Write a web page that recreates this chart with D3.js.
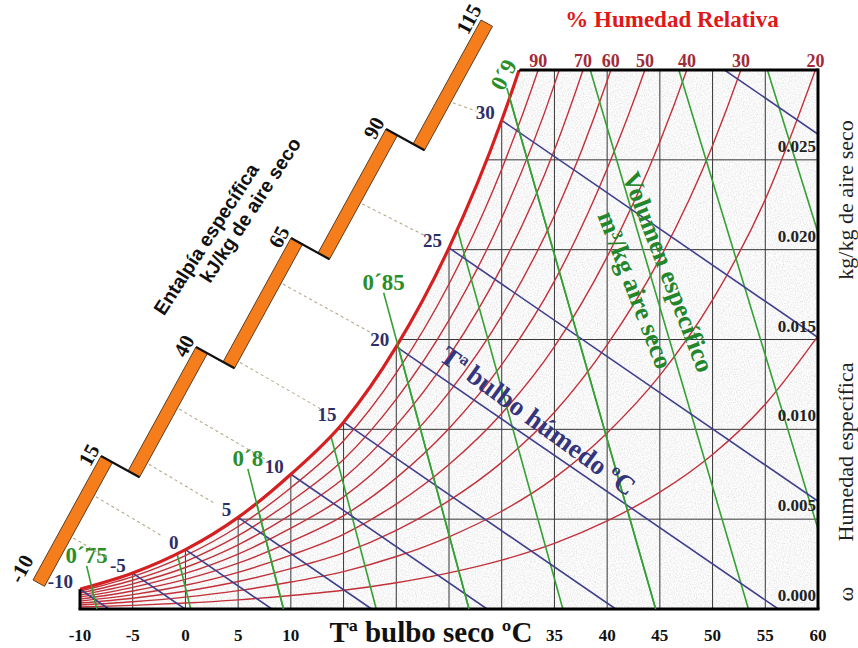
<!DOCTYPE html>
<html><head><meta charset="utf-8">
<script src="https://cdn.jsdelivr.net/npm/d3@7"></script>
<style>body{margin:0;background:#fff}svg{display:block}</style>
</head><body><svg id="c" width="858" height="648"></svg>
<script>
// ---------------- DATA ----------------
const tempGrid = [-10,-5,0,5,10,15,20,25,30,35,40,45,50,55,60];
const satHumidity = [0.0011,0.0020,0.0033,0.0051,0.0075,0.0104,0.0146,0.0201,0.0272,0.0365,0.0490,0.0650,0.0860,0.1140,0.1520];
const rhLevels = [10,20,30,40,50,60,70,80,90];
const rhLabelLevels = [90,70,60,50,40,30,20];
const wetBulbTemps = [-10,-5,0,5,10,15,20,25,30,35];
const wetBulbLabelTemps = [-10,-5,0,5,10,15,20,25,30];
const wetBulbSlope = 0.000403;
const volumeValues = [0.75,0.775,0.80,0.825,0.85,0.875,0.90,0.925,0.95,0.975];
const volumeTempAtDry = [-8.4,0.5,9.3,18.1,26.9,35.8,44.6,53.4,62.3,71.1];
const volumeTempAtTop = [-20.5,-12.1,-3.7,4.7,13.1,21.6,30.0,38.4,46.8,55.2];
const volumeLabels = ["0\u00b475","0\u00b48","0\u00b485","0\u00b49"];
const volumeLabelValues = [0.75,0.80,0.85,0.90];
const volumeLabelTopW = [0.0024,0.0078,0.0176,0.0290];
const xTickLabels = [-10,-5,0,5,10,35,40,45,50,55,60];
const gridTemps = [-5,0,5,10,15,20,25,30,35,40,45,50,55];
const gridHumidity = [0.005,0.010,0.015,0.020,0.025];
const yTickValues = [0,0.005,0.010,0.015,0.020,0.025];
const enthalpyTicks = [-10,15,40,65,90,115];
const dashedEnthalpyTemps = [-5,0,5,10,15,20,25,30];

// ---------------- SETUP ----------------
const svg = d3.select("#c");
const SERIF = "'Liberation Serif','Times New Roman',serif";
const SANS = "'Liberation Sans',Arial,sans-serif";
const x = d3.scaleLinear().domain([-10,60]).range([80,818]);
const y = d3.scaleLinear().domain([0,0.030]).range([609,70]);
const satOf = t => satHumidity[tempGrid.indexOf(t)];
const satPts = tempGrid.map((t,i)=>({t, w:satHumidity[i]}));
const curveLine = d3.line().x(d=>x(d.t)).y(d=>y(d.w)).curve(d3.curveMonotoneX);

const defs = svg.append("defs");
defs.append("clipPath").attr("id","rectClip").append("rect")
  .attr("x",x(-10)).attr("y",y(0.030)).attr("width",x(60)-x(-10)).attr("height",y(0)-y(0.030));
defs.append("clipPath").attr("id","satClip").append("path")
  .attr("d", d3.area().x(d=>x(d.t)).y0(y(0)+6).y1(d=>y(d.w)).curve(d3.curveMonotoneX)(satPts));
const filt = defs.append("filter").attr("id","grain").attr("filterUnits","userSpaceOnUse")
  .attr("x",70).attr("y",60).attr("width",760).attr("height",560);
filt.append("feTurbulence").attr("type","fractalNoise").attr("baseFrequency",0.85).attr("numOctaves",2).attr("seed",5);
filt.append("feColorMatrix").attr("type","matrix")
  .attr("values","0.33 0.33 0.33 0 0  0.33 0.33 0.33 0 0  0.33 0.33 0.33 0 0  0 0 0 0 1");
const ct = filt.append("feComponentTransfer");
["feFuncR","feFuncG","feFuncB"].forEach(f=>ct.append(f).attr("type","linear").attr("slope",0.8).attr("intercept",0.54));

// ---------------- CHART BODY ----------------
const outer = svg.append("g").attr("clip-path","url(#rectClip)");
const body = outer.append("g").attr("clip-path","url(#satClip)");
body.append("rect").attr("x",70).attr("y",60).attr("width",760).attr("height",560).attr("filter","url(#grain)");

body.selectAll("line.vg").data(gridTemps).join("line").attr("class","vg")
  .attr("x1",d=>x(d)).attr("x2",d=>x(d)).attr("y1",y(0)).attr("y2",y(0.030))
  .attr("stroke","#363636").attr("stroke-width",1);
body.selectAll("line.hg").data(gridHumidity).join("line").attr("class","hg")
  .attr("x1",x(-10)).attr("x2",x(60)).attr("y1",d=>y(d)).attr("y2",d=>y(d))
  .attr("stroke","#363636").attr("stroke-width",1);

const rhPaths = body.selectAll("path.rh").data(rhLevels).join("path").attr("class","rh")
  .attr("d",p=>curveLine(tempGrid.map((t,i)=>({t, w:satHumidity[i]*p/100}))))
  .attr("fill","none").attr("stroke","#c2303a").attr("stroke-width",1.4);

body.selectAll("line.vol").data(volumeValues).join("line").attr("class","vol")
  .attr("x1",(d,i)=>x(volumeTempAtDry[i])).attr("y1",y(0))
  .attr("x2",(d,i)=>x(volumeTempAtTop[i])).attr("y2",y(0.030))
  .attr("stroke","#35a035").attr("stroke-width",1.6);

body.selectAll("line.wb").data(wetBulbTemps).join("line").attr("class","wb")
  .attr("x1",d=>x(d)).attr("y1",d=>y(satOf(d)))
  .attr("x2",d=>x(d+satOf(d)/wetBulbSlope)).attr("y2",y(0))
  .attr("stroke","#3f3f8c").attr("stroke-width",1.6);

svg.append("g").attr("clip-path","url(#satClip)").append("line")
  .attr("x1",x(-10)).attr("x2",x(60)+1.5).attr("y1",y(0.030)).attr("y2",y(0.030))
  .attr("stroke","#000").attr("stroke-width",3);

outer.append("path").attr("d",curveLine(satPts)).attr("fill","none")
  .attr("stroke","#d42020").attr("stroke-width",3.2);

svg.append("line").attr("x1",x(-10)-1.5).attr("x2",x(60)+1.5).attr("y1",y(0)).attr("y2",y(0)).attr("stroke","#000").attr("stroke-width",3);
svg.append("line").attr("x1",x(60)).attr("x2",x(60)).attr("y1",y(0)).attr("y2",y(0.030)-1.5).attr("stroke","#000").attr("stroke-width",3);
svg.append("line").attr("x1",x(-10)).attr("x2",x(-10)).attr("y1",y(0)).attr("y2",y(satHumidity[0])).attr("stroke","#000").attr("stroke-width",3);

const volT = (i,w) => volumeTempAtDry[i] + (w/0.030)*(volumeTempAtTop[i]-volumeTempAtDry[i]);
volumeLabelValues.forEach((v,j)=>{
  const i = volumeValues.indexOf(v);
  const tx = x(volT(i,volumeLabelTopW[j])), ty = y(volumeLabelTopW[j]);
  svg.append("line").attr("x1",x(volumeTempAtDry[i])).attr("y1",y(0)).attr("x2",tx).attr("y2",ty)
    .attr("stroke","#35a035").attr("stroke-width",1.6);
  const lab = svg.append("text").text(volumeLabels[j]).attr("font-family",SERIF).attr("font-weight","bold")
    .attr("font-size",23).attr("fill","#2a8f2a").attr("text-anchor","middle");
  if (j===3) lab.attr("dominant-baseline","central").attr("transform",`translate(${tx-3},${ty-13}) rotate(-62)`);
  else lab.attr("x",tx).attr("y",ty-3);
});

// ---------------- ENTHALPY SCALE ----------------
const barOrigin=[33,580], segVec=[68,-124], stepVec=[27,15], widthVec=[11.5,6.3];
const hScale = d3.scaleLinear().domain([-10,115]).range([0,5]);
const segStart = k => [barOrigin[0]+k*(segVec[0]+stepVec[0]), barOrigin[1]+k*(segVec[1]+stepVec[1])];
const barPoint = (h,side) => {
  const u = hScale(h); const k = Math.max(0,Math.min(4,Math.floor(u))); const f = u-k;
  const s = segStart(k);
  return [s[0]+f*segVec[0]+side*widthVec[0], s[1]+f*segVec[1]+side*widthVec[1]];
};
dashedEnthalpyTemps.forEach(t=>{
  const w = satOf(t);
  const h = 1.006*t + w*(2501+1.86*t);
  const p = barPoint(h,1), q=[x(t),y(w)];
  const dx=q[0]-p[0], dy=q[1]-p[1], L=Math.hypot(dx,dy), r=(L-27)/L;
  svg.append("line").attr("x1",p[0]+dx*2/L).attr("y1",p[1]+dy*2/L).attr("x2",p[0]+dx*r).attr("y2",p[1]+dy*r)
    .attr("stroke","#b5a888").attr("stroke-width",1.1).attr("stroke-dasharray","3,3");
});
const segs = d3.range(enthalpyTicks.length-1);
svg.selectAll("path.bar").data(segs).join("path").attr("class","bar")
  .attr("d",k=>{const s=segStart(k);
    return `M${s[0]},${s[1]} L${s[0]+segVec[0]},${s[1]+segVec[1]} L${s[0]+segVec[0]+widthVec[0]},${s[1]+segVec[1]+widthVec[1]} L${s[0]+widthVec[0]},${s[1]+widthVec[1]} Z`;})
  .attr("fill","#f57d1c").attr("stroke","#4a3018").attr("stroke-width",0.9);
segs.slice(0,-1).forEach(k=>{
  const s=segStart(k), n=segStart(k+1);
  svg.append("line").attr("x1",s[0]+segVec[0]).attr("y1",s[1]+segVec[1])
    .attr("x2",n[0]+widthVec[0]).attr("y2",n[1]+widthVec[1]).attr("stroke","#111").attr("stroke-width",2.2);
});
svg.selectAll("text.hl").data(enthalpyTicks).join("text").attr("class","hl")
  .text(d=>d).attr("font-family",SERIF).attr("font-weight","bold").attr("font-size",21).attr("fill","#111")
  .attr("text-anchor","middle").attr("dominant-baseline","central")
  .attr("transform",(d,i)=>{
    let p;
    if (i===0){ p=[barOrigin[0]+0.05*segVec[0]-15, barOrigin[1]+0.05*segVec[1]-5]; }
    else { const s=segStart(i-1); p=[s[0]+segVec[0]-12, s[1]+segVec[1]-1]; }
    return `translate(${p[0]},${p[1]}) rotate(-62)`;
  });
[["Entalp\u00eda espec\u00edfica",206,239],["kJ/kg de aire seco",250,210]].forEach(a=>{
  svg.append("text").text(a[0]).attr("font-family",SANS).attr("font-weight","bold").attr("font-size",19.5)
    .attr("fill","#111").attr("text-anchor","middle").attr("dominant-baseline","central")
    .attr("transform",`translate(${a[1]},${a[2]}) rotate(-57)`);
});

// ---------------- LABELS ----------------
svg.selectAll("text.wbl").data(wetBulbLabelTemps).join("text").attr("class","wbl")
  .text(d=>d).attr("x",d=>x(d)-7).attr("y",d=>y(satOf(d))-1)
  .attr("text-anchor","end").attr("font-family",SERIF).attr("font-weight","bold").attr("font-size",19).attr("fill","#2e2e66");

const yTop = y(0.030);
rhPaths.each(function(p){
  if (!rhLabelLevels.includes(p)) return;
  const L = this.getTotalLength(); let l=0, pt=this.getPointAtLength(0);
  while (l<L && pt.y>yTop){ l+=0.5; pt=this.getPointAtLength(l); }
  svg.append("text").text(p).attr("x",pt.x).attr("y",yTop-3).attr("text-anchor","middle")
    .attr("font-family",SERIF).attr("font-weight","bold").attr("font-size",18).attr("fill","#a32a38");
});
svg.append("text").text("% Humedad Relativa").attr("x",672).attr("y",27).attr("text-anchor","middle")
  .attr("font-family",SERIF).attr("font-weight","bold").attr("font-size",23).attr("fill","#e01818");

svg.selectAll("text.yt").data(yTickValues).join("text").attr("class","yt")
  .text(d=>d3.format(".3f")(d)).attr("x",x(60)-2).attr("y",d=>y(d)-8).attr("text-anchor","end")
  .attr("font-family",SERIF).attr("font-weight","bold").attr("font-size",17).attr("fill","#222");
[["kg/kg de aire seco",200],["Humedad espec\u00edfica",452],["\u03c9",594]].forEach(a=>{
  svg.append("text").text(a[0]).attr("font-family",SERIF).attr("font-size",22).attr("fill","#222")
    .attr("text-anchor","middle").attr("dominant-baseline","central")
    .attr("transform",`translate(845,${a[1]}) rotate(-90)`);
});

svg.selectAll("text.xt").data(xTickLabels).join("text").attr("class","xt")
  .text(d=>d).attr("x",d=>x(d)).attr("y",641).attr("text-anchor","middle")
  .attr("font-family",SERIF).attr("font-weight","bold").attr("font-size",17).attr("fill","#111");
svg.append("text").text("T\u00aa bulbo seco \u00baC").attr("x",431).attr("y",642).attr("text-anchor","middle")
  .attr("font-family",SERIF).attr("font-weight","bold").attr("font-size",29).attr("fill","#111");

svg.append("text").text("T\u00aa bulbo h\u00famedo \u00baC").attr("font-family",SERIF).attr("font-weight","bold")
  .attr("font-size",27).attr("fill","#35357c").attr("text-anchor","middle").attr("dominant-baseline","central")
  .attr("transform","translate(538,421) rotate(36)");
[["Volumen espec\u00edfico",668,272],["m\u00b3/kg aire seco",635,290]].forEach(a=>{
  svg.append("text").text(a[0]).attr("font-family",SERIF).attr("font-weight","bold").attr("font-size",26)
    .attr("fill","#23862a").attr("text-anchor","middle").attr("dominant-baseline","central")
    .attr("transform",`translate(${a[1]},${a[2]}) rotate(69)`);
});
</script></body></html>
